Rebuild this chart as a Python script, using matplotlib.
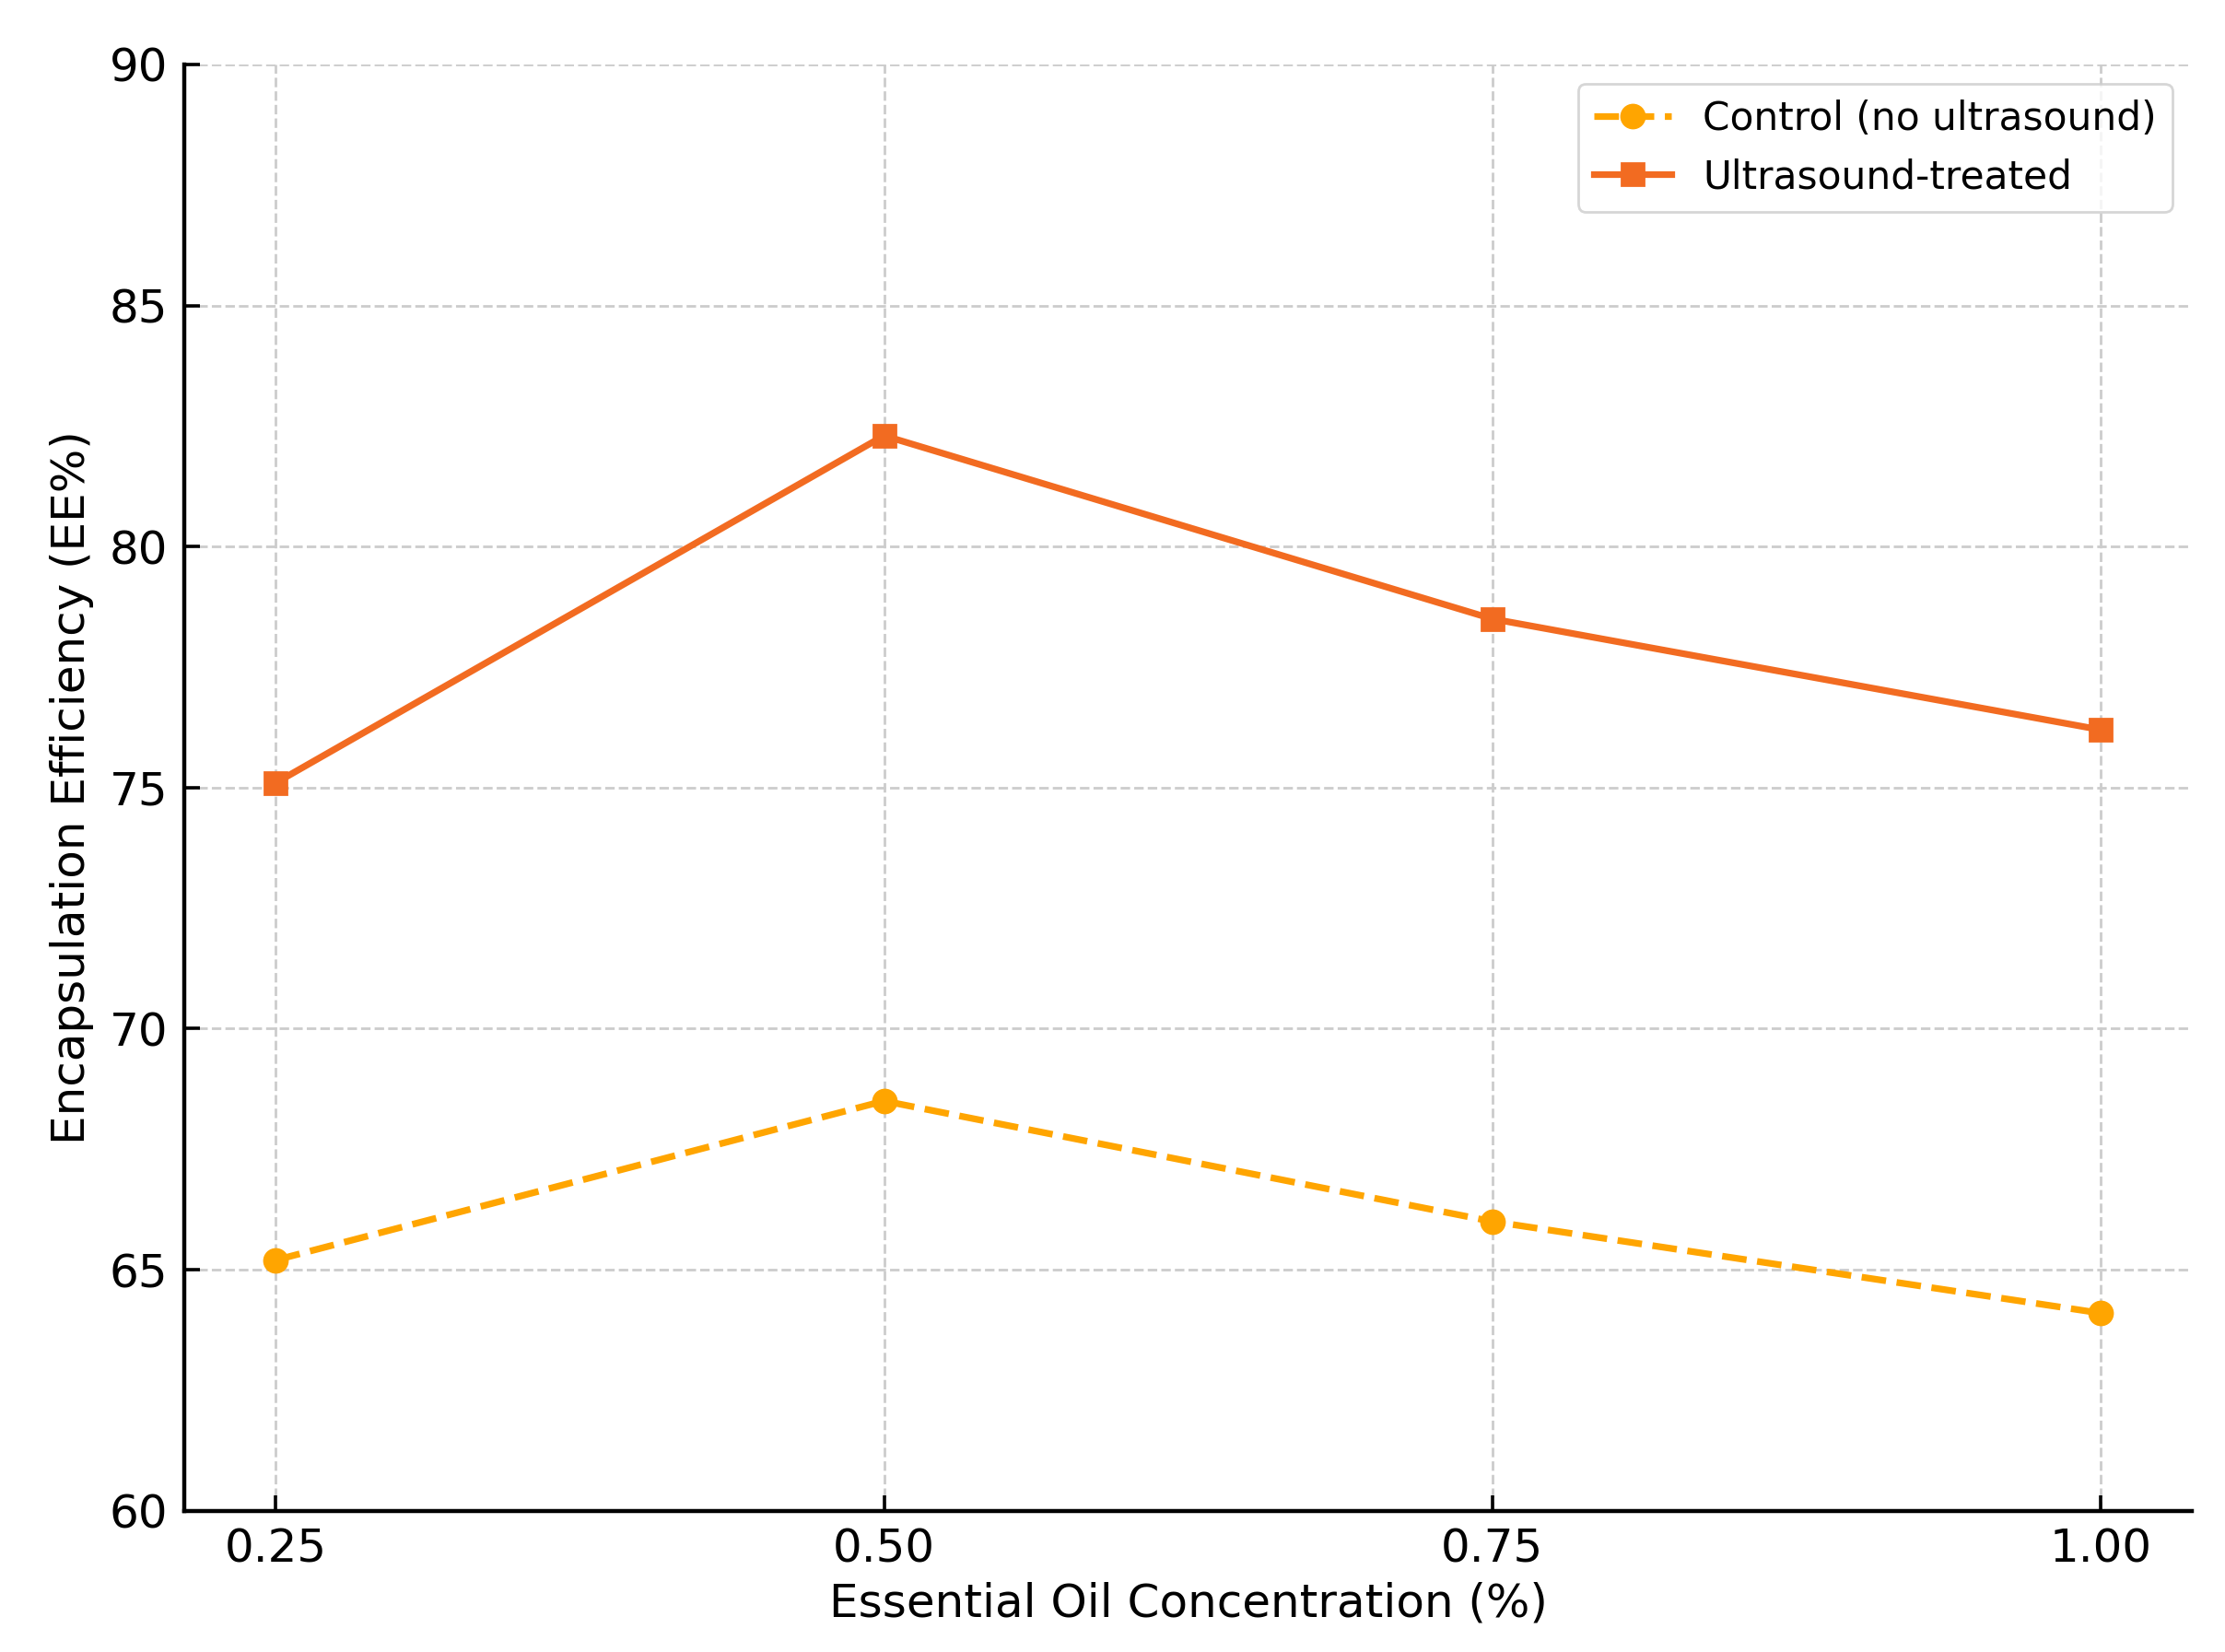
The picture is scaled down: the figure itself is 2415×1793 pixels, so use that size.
import matplotlib
matplotlib.use('Agg')
import matplotlib.pyplot as plt

# Essential oil concentration (%) and encapsulation efficiency (EE%)
concentration = [0.25, 0.50, 0.75, 1.00]
ee_control = [65.2, 68.5, 66.0, 64.1]
ee_ultrasound = [75.1, 82.3, 78.5, 76.2]
tick_labels = ["0.25", "0.50", "0.75", "1.00"]


def main():
    plt.rcParams['font.family'] = 'DejaVu Sans'
    fig, ax = plt.subplots(figsize=(12.075, 8.965), dpi=200)
    fig.subplots_adjust(left=0.083, right=0.985, top=0.961, bottom=0.0855)

    ax.plot(concentration, ee_control, linestyle='--', marker='o', color='#FFA500',
            linewidth=2.6, markersize=9, label='Control (no ultrasound)')
    ax.plot(concentration, ee_ultrasound, linestyle='-', marker='s', color='#F26B21',
            linewidth=2.6, markersize=8.5, label='Ultrasound-treated')

    ax.set_ylim(60, 90)
    ax.set_xticks(concentration)
    ax.set_xticklabels(tick_labels)
    ax.tick_params(direction='in', labelsize=18, length=6, width=1.3, pad=6.5)
    ax.set_xlabel('Essential Oil Concentration (%)', fontsize=18, labelpad=4)
    ax.set_ylabel('Encapsulation Efficiency (EE%)', fontsize=18, labelpad=6)
    ax.grid(True, linestyle='--', color='#cccccc', linewidth=1.0)

    for side in ('top', 'right'):
        ax.spines[side].set_visible(False)
    for side in ('left', 'bottom'):
        ax.spines[side].set_linewidth(1.6)

    ax.legend(loc='upper right', fontsize=15.2)
    fig.savefig('out.png', dpi=200)
    plt.close(fig)


if __name__ == "__main__":
    main()
